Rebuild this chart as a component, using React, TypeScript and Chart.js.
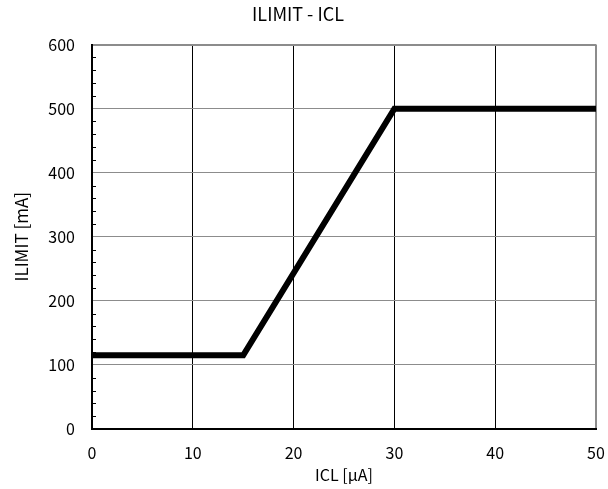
import React, { useEffect, useRef } from "react";
import { Chart, registerables } from "chart.js";

Chart.register(...registerables);

const xValues = [0, 15, 30, 50];
const ilimitValues = [115, 115, 500, 500];
const minorTickValues = [20, 40, 60, 80, 120, 140, 160, 180, 220, 240, 260, 280, 320, 340, 360, 380, 420, 440, 460, 480, 520, 540, 560, 580];

const titleText = "ILIMIT - ICL";
const xTitle = "ICL [μA]";
const yTitle = "ILIMIT [mA]";

const FONT = "'Noto Sans CJK JP', 'Noto Sans', sans-serif";

const minorTicksPlugin = {
  id: "minorTicks",
  afterDraw(chart: any) {
    const y = chart.scales.y;
    const ctx = chart.ctx;
    const left = chart.chartArea.left;
    ctx.save();
    ctx.strokeStyle = "#000";
    ctx.lineWidth = 1;
    ctx.beginPath();
    for (const v of minorTickValues) {
      const py = Math.round(y.getPixelForValue(v)) + 0.5;
      ctx.moveTo(left, py);
      ctx.lineTo(left + 4, py);
    }
    ctx.stroke();
    ctx.restore();
  },
};

export default function App() {
  const ref = useRef<HTMLCanvasElement | null>(null);
  useEffect(() => {
    document.body.style.margin = "0";
    const canvas = ref.current;
    if (!canvas) return;
    const chart = new Chart(canvas, {
      type: "line",
      data: {
        datasets: [
          {
            data: xValues.map((x, i) => ({ x, y: ilimitValues[i] })),
            borderColor: "#000",
            borderWidth: 6,
            pointRadius: 0,
            tension: 0,
            borderJoinStyle: "miter",
            borderCapStyle: "butt",
            fill: false,
          },
        ],
      },
      options: {
        animation: false,
        responsive: true,
        maintainAspectRatio: false,
        layout: { padding: { left: 0, right: 12, top: 0, bottom: 0 } },
        plugins: {
          legend: { display: false },
          tooltip: { enabled: false },
          title: {
            display: true,
            text: titleText,
            color: "#000",
            font: { family: FONT, size: 18, weight: "normal" },
            padding: { top: 3, bottom: 20 },
          },
        },
        scales: {
          x: {
            type: "linear",
            min: 0,
            max: 50,
            ticks: {
              stepSize: 10,
              color: "#000",
              font: { family: FONT, size: 16 },
              padding: 14,
              maxRotation: 0,
            },
            grid: {
              drawTicks: false,
              color: (c: any) => (c.tick && c.tick.value === 50 ? "#8c8c8c" : "#000"),
              lineWidth: (c: any) => (c.tick && c.tick.value === 50 ? 2 : 1),
            },
            border: { display: true, color: "#000", width: 2 },
            title: {
              display: true,
              text: xTitle,
              color: "#000",
              font: { family: FONT, size: 16 },
              padding: { top: 0, bottom: 4 },
            },
            afterFit: (s: any) => {
              s.height = 60;
              s.paddingLeft = 0;
              s.paddingRight = 0;
            },
          },
          y: {
            type: "linear",
            min: 0,
            max: 600,
            ticks: {
              stepSize: 100,
              color: "#000",
              font: { family: FONT, size: 16 },
              padding: 17,
            },
            grid: {
              drawTicks: false,
              color: (c: any) => (c.tick && c.tick.value === 0 ? "#000" : "#8c8c8c"),
              lineWidth: (c: any) => (c.tick && c.tick.value === 600 ? 2 : 1),
            },
            border: { display: true, color: "#000", width: 2 },
            title: {
              display: true,
              text: yTitle,
              color: "#000",
              font: { family: FONT, size: 17 },
              padding: { top: 11, bottom: 0 },
            },
            afterFit: (s: any) => {
              s.width = 92;
            },
          },
        },
      },
      plugins: [minorTicksPlugin],
    } as any);
    return () => chart.destroy();
  }, []);
  return (
    <div style={{ position: "absolute", left: 0, top: 0, width: 608, height: 489, background: "#fff" }}>
      <canvas ref={ref} />
    </div>
  );
}
